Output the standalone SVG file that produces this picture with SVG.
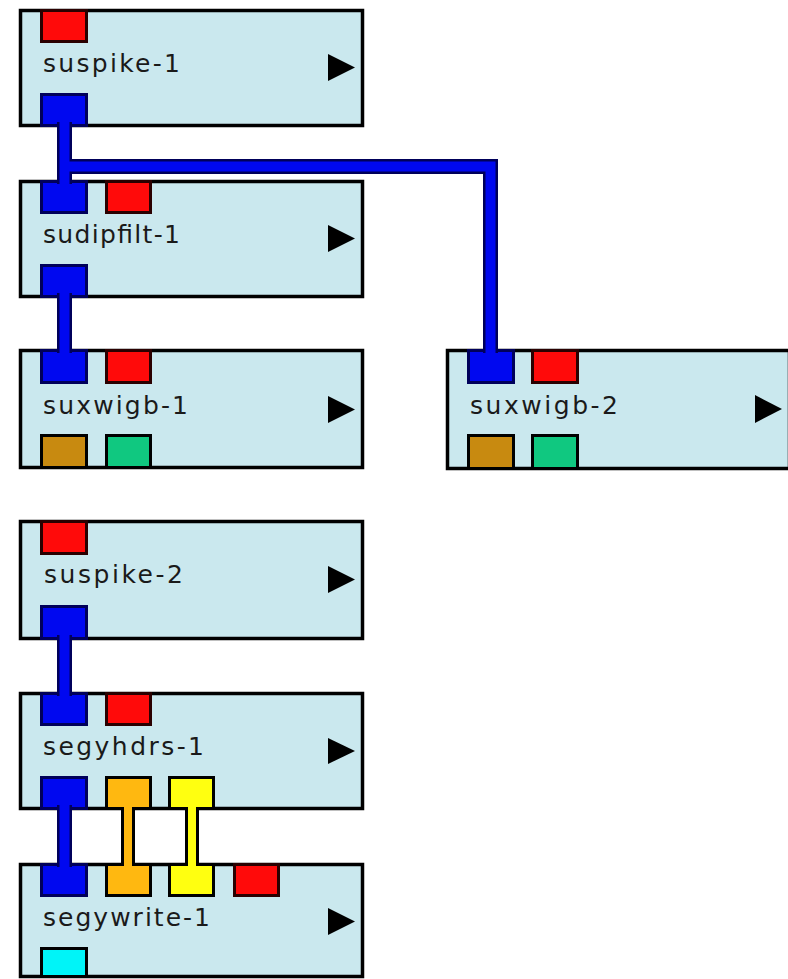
<svg xmlns="http://www.w3.org/2000/svg" width="788" height="979" viewBox="0 0 788 979">
<style>
.box{fill:#cae8ee;stroke:#000;stroke-width:3.5}
.lbl{font-family:"DejaVu Sans","Liberation Sans",sans-serif;font-size:25px;fill:#1a1a1a}
.tri{fill:#000}
.p{stroke-width:3}
.red{fill:#ff0a0a;stroke:#2a0000}
.blue{fill:#0008f0;stroke:#00005a}
.brown{fill:#c88a10;stroke:#000}
.green{fill:#10c880;stroke:#000}
.orange{fill:#ffb810;stroke:#000}
.yellow{fill:#ffff10;stroke:#000}
.cyan{fill:#00f4f8;stroke:#000}
.cbo{fill:none;stroke:#00005a;stroke-width:15;stroke-linejoin:miter}
.cbi{fill:none;stroke:#0008f0;stroke-width:10;stroke-linejoin:miter}
.cko{fill:none;stroke:#000;stroke-width:14}
.coi{fill:none;stroke:#ffb810;stroke-width:8}
.cyi{fill:none;stroke:#ffff10;stroke-width:8}
</style>
<rect x="0" y="0" width="788" height="979" fill="#fff"/>

<g id="suspike-1" transform="translate(19,9)">
<rect class="box" x="1.5" y="1.5" width="342" height="115"/>
<rect class="p red" x="22.5" y="1.5" width="45" height="31"/>
<rect class="p blue" x="22.5" y="85.5" width="45" height="31"/>
<text class="lbl" x="24" y="63" textLength="137" lengthAdjust="spacing">suspike-1</text>
<polygon class="tri" points="309,45 336,58.5 309,72"/>
</g>

<g id="sudipfilt-1" transform="translate(19,180)">
<rect class="box" x="1.5" y="1.5" width="342" height="115"/>
<rect class="p blue" x="22.5" y="1.5" width="45" height="31"/>
<rect class="p red" x="87.5" y="1.5" width="44" height="31"/>
<rect class="p blue" x="22.5" y="85.5" width="45" height="31"/>
<text class="lbl" x="24" y="63" textLength="137" lengthAdjust="spacing">sudipfilt-1</text>
<polygon class="tri" points="309,45 336,58.5 309,72"/>
</g>

<g id="suxwigb-1" transform="translate(19,349)">
<rect class="box" x="1.5" y="1.5" width="342" height="117"/>
<rect class="p blue" x="22.5" y="1.5" width="45" height="32"/>
<rect class="p red" x="87.5" y="1.5" width="44" height="32"/>
<rect class="p brown" x="22.5" y="86.5" width="45" height="32"/>
<rect class="p green" x="87.5" y="86.5" width="44" height="32"/>
<text class="lbl" x="24" y="65" textLength="145" lengthAdjust="spacing">suxwigb-1</text>
<polygon class="tri" points="309,47 336,60.5 309,74"/>
</g>

<g id="suxwigb-2" transform="translate(446,349)">
<rect class="box" x="1.5" y="1.5" width="342" height="118"/>
<rect class="p blue" x="22.5" y="1.5" width="45" height="32"/>
<rect class="p red" x="86.5" y="1.5" width="45" height="32"/>
<rect class="p brown" x="22.5" y="86.5" width="45" height="33"/>
<rect class="p green" x="86.5" y="86.5" width="45" height="33"/>
<text class="lbl" x="24" y="65" textLength="148" lengthAdjust="spacing">suxwigb-2</text>
<polygon class="tri" points="309,46 336,60 309,74"/>
</g>

<g id="suspike-2" transform="translate(19,520)">
<rect class="box" x="1.5" y="1.5" width="342" height="117"/>
<rect class="p red" x="22.5" y="1.5" width="45" height="32"/>
<rect class="p blue" x="22.5" y="86.5" width="45" height="32"/>
<text class="lbl" x="25" y="63" textLength="139" lengthAdjust="spacing">suspike-2</text>
<polygon class="tri" points="309,46 336,59.5 309,73"/>
</g>

<g id="segyhdrs-1" transform="translate(19,692)">
<rect class="box" x="1.5" y="1.5" width="342" height="115"/>
<rect class="p blue" x="22.5" y="1.5" width="45" height="31"/>
<rect class="p red" x="87.5" y="1.5" width="44" height="31"/>
<rect class="p blue" x="22.5" y="85.5" width="45" height="31"/>
<rect class="p orange" x="87.5" y="85.5" width="44" height="31"/>
<rect class="p yellow" x="150.5" y="85.5" width="44" height="31"/>
<text class="lbl" x="24" y="63" textLength="161" lengthAdjust="spacing">segyhdrs-1</text>
<polygon class="tri" points="309,46 336,59 309,72"/>
</g>

<g id="segywrite-1" transform="translate(19,863)">
<rect class="box" x="1.5" y="1.5" width="342" height="112"/>
<rect class="p blue" x="22.5" y="1.5" width="45" height="31"/>
<rect class="p orange" x="87.5" y="1.5" width="44" height="31"/>
<rect class="p yellow" x="150.5" y="1.5" width="44" height="31"/>
<rect class="p red" x="215.5" y="1.5" width="44" height="31"/>
<rect class="p cyan" x="22.5" y="85.5" width="45" height="28"/>
<text class="lbl" x="24" y="63" textLength="167" lengthAdjust="spacing">segywrite-1</text>
<polygon class="tri" points="309,45 336,58.5 309,72"/>
</g>

<g id="connectors">
<path class="cbo" d="M64.5,122 V184"/>
<path class="cbo" d="M64.5,166.5 H490.5 V353"/>
<path class="cbi" d="M64.5,120 V186"/>
<path class="cbi" d="M64.5,166.5 H490.5 V355"/>
<path class="cbo" d="M64.5,293 V353"/>
<path class="cbi" d="M64.5,291 V355"/>
<path class="cbo" d="M64.5,635 V696"/>
<path class="cbi" d="M64.5,633 V698"/>
<path class="cbo" d="M64.5,805 V867"/>
<path class="cbi" d="M64.5,803 V869"/>
<path class="cko" d="M128,810 V863"/>
<path class="coi" d="M128,806 V867"/>
<path class="cko" d="M192,810 V863"/>
<path class="cyi" d="M192,806 V867"/>
</g>
</svg>
